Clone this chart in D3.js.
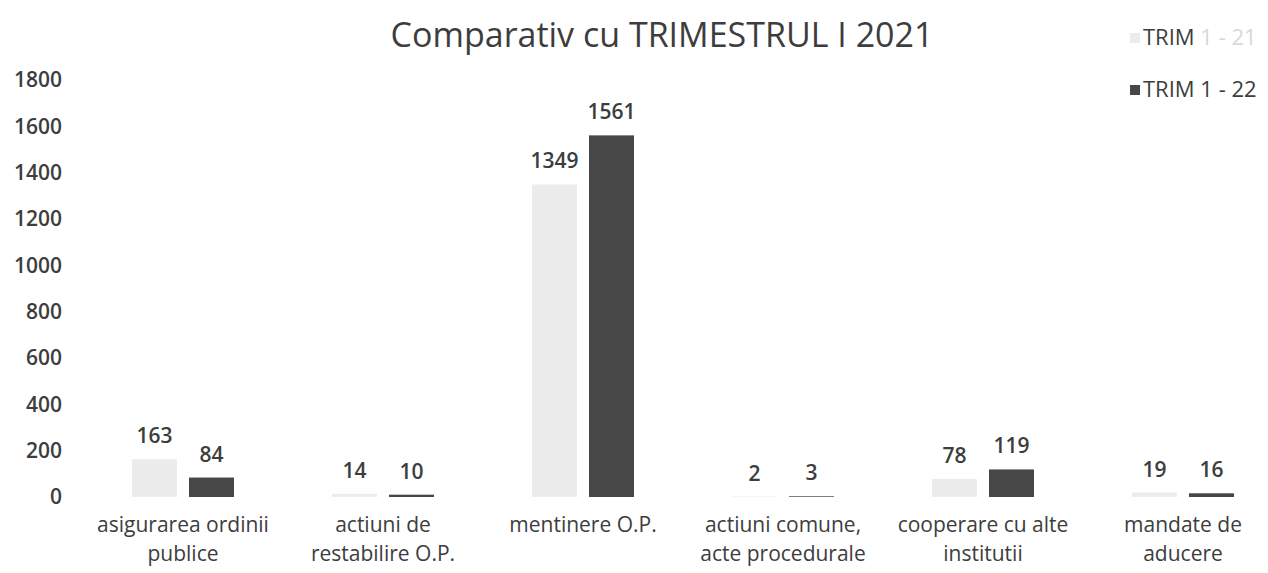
<!DOCTYPE html>
<html>
<head>
<meta charset="utf-8">
<script src="https://cdn.jsdelivr.net/npm/d3@7"></script>
<style>
  body { margin: 0; background: #fff; }
  svg { font-family: "Open Sans", "Lato", sans-serif; }
</style>
</head>
<body>
<svg width="1268" height="573"></svg>
<script>
// data
const categories = [
  ["asigurarea ordinii", "publice"],
  ["actiuni de", "restabilire O.P."],
  ["mentinere O.P."],
  ["actiuni comune,", "acte procedurale"],
  ["cooperare cu alte", "institutii"],
  ["mandate de", "aducere"]
];
const seriesNames = ["TRIM 1 - 21", "TRIM 1 - 22"];
const trim21 = [163, 14, 1349, 2, 78, 19];
const trim22 = [84, 10, 1561, 3, 119, 16];
const yTicks = [0, 200, 400, 600, 800, 1000, 1200, 1400, 1600, 1800];

const colors = ["#ececec", "#474747"];
const textColor = "#3d3d3d";

const svg = d3.select("svg");
const catKeys = categories.map(c => c.join(" "));
const rows = catKeys.map((k, i) => ({ key: k, lines: categories[i], values: [trim21[i], trim22[i]] }));

const x0 = d3.scaleBand().domain(catKeys).range([83, 1283]).paddingInner(0.49).paddingOuter(0.245);
const x1 = d3.scaleBand().domain(seriesNames).range([0, x0.bandwidth()]).paddingInner(0.21);
const y = d3.scaleLinear().domain([0, 1800]).range([497, 80]);

// title
svg.append("text")
  .attr("x", 662).attr("y", 47)
  .attr("text-anchor", "middle")
  .attr("font-size", 34)
  .attr("fill", textColor)
  .text("Comparativ cu TRIMESTRUL I 2021");

// y axis
const yAxis = svg.append("g")
  .attr("transform", "translate(64,0)")
  .call(d3.axisLeft(y).tickValues(yTicks).tickFormat(d3.format("d")).tickSize(0).tickPadding(2));
yAxis.select(".domain").remove();
yAxis.selectAll("text")
  .attr("font-family", "'Open Sans', Lato, sans-serif")
  .attr("font-size", 21)
  .attr("font-weight", 600)
  .attr("fill", textColor);

// bars
const groups = svg.append("g").selectAll("g").data(rows).enter().append("g")
  .attr("transform", d => `translate(${x0(d.key)},0)`);

groups.selectAll("rect")
  .data(d => d.values.map((v, i) => ({ name: seriesNames[i], value: v, i: i })))
  .enter().append("rect")
  .attr("x", d => x1(d.name))
  .attr("width", x1.bandwidth())
  .attr("y", d => y(d.value))
  .attr("height", d => y(0) - y(d.value))
  .attr("fill", d => colors[d.i]);

groups.selectAll("text.val")
  .data(d => d.values.map((v, i) => ({ name: seriesNames[i], value: v })))
  .enter().append("text")
  .attr("class", "val")
  .attr("x", d => x1(d.name) + x1.bandwidth() / 2)
  .attr("y", d => y(d.value) - 16)
  .attr("text-anchor", "middle")
  .attr("font-size", 21)
  .attr("font-weight", 600)
  .attr("fill", textColor)
  .text(d => d.value);

// category labels
const catLabels = svg.append("g").selectAll("text").data(rows).enter().append("text")
  .attr("x", d => x0(d.key) + x0.bandwidth() / 2)
  .attr("y", 532)
  .attr("text-anchor", "middle")
  .attr("font-size", 21)
  .attr("fill", textColor);
catLabels.selectAll("tspan").data(d => d.lines).enter().append("tspan")
  .attr("x", function() { return this.parentNode.getAttribute("x"); })
  .attr("dy", (d, i) => i === 0 ? 0 : 29)
  .text(d => d);

// legend
const legend = svg.append("g").selectAll("g").data(seriesNames).enter().append("g")
  .attr("transform", (d, i) => `translate(1130,${38 + i * 52})`);
legend.append("rect")
  .attr("x", 0).attr("y", -5).attr("width", 10).attr("height", 10)
  .attr("fill", (d, i) => colors[i]);
const legText = legend.append("text")
  .attr("x", 13).attr("y", 7)
  .attr("font-size", 22)
  .attr("fill", textColor);
legText.append("tspan").text("TRIM ");
legText.append("tspan")
  .attr("fill", (d, i) => i === 0 ? "#d8d8d8" : textColor)
  .text(d => d.replace("TRIM ", ""));
</script>
</body>
</html>
